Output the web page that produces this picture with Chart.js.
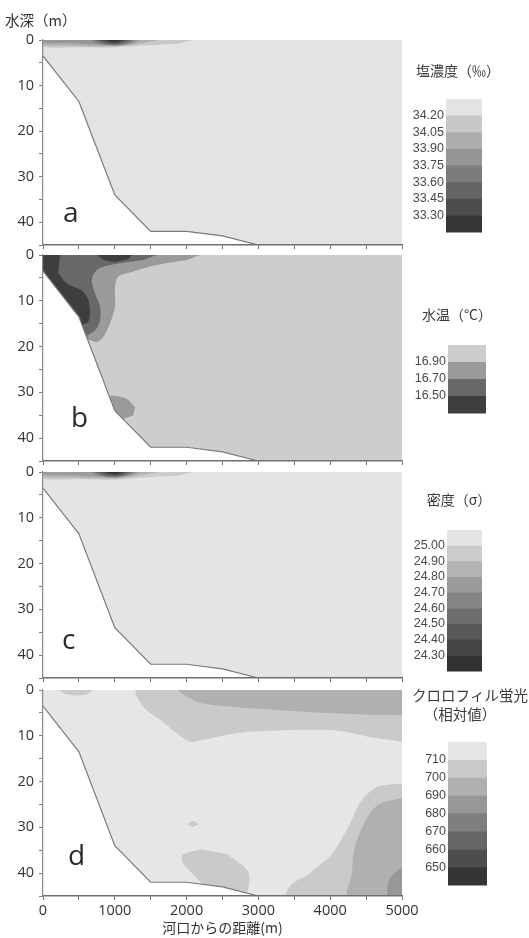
<!DOCTYPE html>
<html lang="ja">
<head>
<meta charset="utf-8">
<title>河口域の断面分布</title>
<script src="https://cdn.jsdelivr.net/npm/chart.js@4.4.1/dist/chart.umd.min.js"></script>
<style>
  html, body { margin: 0; padding: 0; background: #fff; }
  #wrap { position: relative; width: 529px; height: 938px; overflow: hidden; }
  #wrap canvas { position: absolute; left: 0; }
</style>
</head>
<body>
<div id="wrap">
  <canvas id="panelA" width="529" height="261" style="top:0px"></canvas>
  <canvas id="panelB" width="529" height="238" style="top:239px"></canvas>
  <canvas id="panelC" width="529" height="238" style="top:456px"></canvas>
  <canvas id="panelD" width="529" height="264" style="top:674px"></canvas>
</div>
<script>
// 軸 (河口からの距離 m / 水深 m)
const distLabels = [0, 1000, 2000, 3000, 4000, 5000];
const depthLabels = [0, 10, 20, 30, 40];
const plotFrame = [[0, 0], [5000, 0], [5000, 45], [0, 45]];
// 海底地形
const bottomLine = [[0, 3.5], [500, 13.5], [1000, 34], [1500, 42], [2000, 42], [2500, 43], [3000, 45]];

// a 塩濃度
const salLabels = ['34.20', '34.05', '33.90', '33.75', '33.60', '33.45', '33.30'];
const salColors = ['#e3e3e5', '#c8c8ca', '#aeaeb0', '#959597', '#7c7c7e', '#646466', '#4d4d4f', '#363638'];
const salZone1 = [[2100, 0], [0, 0], [0, 1.5], [500, 1.6], [1000, 1.6], [1500, 1.1], [1900, 0.7]];
const salZone2 = [[1600, 0], [0, 0], [0, 1.1], [400, 1.2], [800, 1.4], [1100, 1.3], [1400, 0.6]];
const salZone3 = [[1350, 0], [0, 0], [0, 0.6], [400, 0.7], [750, 1.0], [1000, 1.2], [1250, 0.7]];
const salZone4 = [[1280, 0], [680, 0], [800, 0.9], [1000, 1.15], [1180, 0.8]];
const salZone5 = [[1220, 0], [740, 0], [860, 0.75], [1000, 0.95], [1130, 0.65]];
const salZone6 = [[1160, 0], [800, 0], [900, 0.55], [1000, 0.75], [1090, 0.5]];
const salZone7 = [[1100, 0], [870, 0], [940, 0.35], [1000, 0.5], [1050, 0.35]];

// b 水温
const tmpLabels = ['16.90', '16.70', '16.50'];
const tmpColors = ['#cdcdcf', '#9a9a9c', '#68686a', '#3e3e40'];
const tmpZone1 = [[2190, 0], [0, 0], [0, 20], [560, 20], [630, 18.6], [750, 19], [840, 17.9], [935, 14.9], [1003, 11.3], [1003, 6.9], [1050, 4.7], [1260, 3.6], [1580, 2.2], [2000, 1.1]];
const tmpZone1b = [[1280, 33.2], [1166, 31.4], [1000, 30.8], [930, 31], [900, 36], [1000, 36.2], [1118, 35.8], [1258, 35]];
const tmpZone2 = [[1580, 0], [0, 0], [0, 18], [560, 18], [655, 17.2], [750, 16], [795, 14.2], [795, 11.3], [725, 8.4], [680, 5.5], [750, 3.3], [930, 2.2], [1400, 1.1]];
const tmpZone3 = [[237, 0], [0, 0], [0, 16], [400, 16], [561, 15.2], [631, 14.6], [655, 12.8], [631, 9.8], [539, 7.7], [330, 6.2], [213, 4]];
const tmpZone3b = [[1240, 0], [770, 0], [840, 1], [1000, 1.5], [1190, 0.95]];

// c 密度
const denLabels = ['25.00', '24.90', '24.80', '24.70', '24.60', '24.50', '24.40', '24.30'];
const denColors = ['#e4e4e6', '#cbcbcd', '#b3b3b5', '#9b9b9d', '#848486', '#6d6d6f', '#58585a', '#444446', '#323234'];
const denZone1 = [[2100, 0], [0, 0], [0, 1.5], [500, 1.6], [1000, 1.7], [1500, 1.1], [1900, 0.7]];
const denZone2 = [[1600, 0], [0, 0], [0, 1.1], [400, 1.2], [800, 1.4], [1100, 1.3], [1400, 0.6]];
const denZone3 = [[1350, 0], [0, 0], [0, 0.6], [400, 0.7], [750, 1.0], [1000, 1.2], [1250, 0.7]];
const denZone4 = [[1280, 0], [680, 0], [800, 0.9], [1000, 1.2], [1180, 0.8]];
const denZone5 = [[1230, 0], [730, 0], [850, 0.8], [1000, 1.0], [1140, 0.7]];
const denZone6 = [[1180, 0], [790, 0], [890, 0.6], [1000, 0.8], [1100, 0.55]];
const denZone7 = [[1130, 0], [840, 0], [920, 0.45], [1000, 0.62], [1070, 0.42]];
const denZone8 = [[1080, 0], [890, 0], [950, 0.3], [1000, 0.42], [1040, 0.28]];

// d クロロフィル蛍光 (相対値)
const chlLabels = ['710', '700', '690', '680', '670', '660', '650'];
const chlColors = ['#e6e6e8', '#cacacc', '#b0b0b2', '#979799', '#7e7e80', '#656567', '#4d4d4f', '#353537'];
const chlZone1 = [[5000, 0], [1310, 0], [1400, 3.7], [1640, 6.6], [1870, 9.5], [2060, 11.3], [2200, 11], [2660, 9.5], [3130, 8.9], [4060, 8.8], [4530, 10.2], [5000, 11.3]];
const chlZone2 = [[700, 0], [230, 0], [330, 1], [470, 1.2], [620, 1]];
const chlZone3 = [[2200, 34.8], [1940, 36], [1940, 37.4], [2000, 38.8], [2200, 42], [2400, 45], [2800, 45], [2870, 42.5], [2850, 39.5], [2570, 35.9]];
const chlZone4 = [[2170, 29.3], [2090, 28.6], [2015, 29.3], [2090, 30]];
const chlZone5 = [[5000, 45], [3390, 45], [3460, 42.5], [3690, 40.3], [4020, 35.9], [4250, 30], [4440, 24.1], [4670, 21.1], [5000, 20.4]];
const chlZone6 = [[5000, 0], [1900, 0], [2010, 1.5], [2200, 2.9], [2660, 3.7], [3130, 4.2], [3590, 4.7], [4060, 5.1], [4530, 5.4], [5000, 5.5]];
const chlZone7 = [[5000, 45], [4250, 45], [4300, 40.3], [4340, 34.4], [4490, 28.6], [4670, 25], [5000, 23.6]];
const chlZone8 = [[5000, 45], [4810, 45], [4810, 42], [4870, 40.3], [5000, 38.8]];

const pts = a => a.map(p => ({ x: p[0], y: p[1] }));

// 色帯の凡例とパネル記号
function decor(p) {
  return {
    id: 'decor',
    afterDraw(chart) {
      const ctx = chart.ctx;
      const dy = p.top;
      ctx.save();
      ctx.fillStyle = '#2b2b2b';
      ctx.font = '28px "Open Sans"';
      ctx.textAlign = 'left';
      ctx.textBaseline = 'alphabetic';
      ctx.fillText(p.letter, p.letterX, p.letterY - dy);

      const n = p.colors.length, bh = p.box.h / n;
      p.colors.forEach((c, i) => {
        ctx.fillStyle = c;
        ctx.fillRect(p.box.x, p.box.y - dy + i * bh, p.box.w, bh + 0.5);
      });
      ctx.fillStyle = '#4a4a4a';
      ctx.font = '12.5px "Liberation Sans"';
      ctx.textAlign = 'right';
      ctx.textBaseline = 'middle';
      p.labels.forEach((t, i) => ctx.fillText(t, p.box.x - 2, p.box.y - dy + (i + 1) * bh));

      ctx.fillStyle = '#3a3a3a';
      ctx.font = p.titleFont;
      ctx.textAlign = 'center';
      p.title.forEach((t, i) => ctx.fillText(t, p.titleX[i], p.titleY[i] - dy));

      if (p.yTitle) {
        ctx.textAlign = 'left';
        ctx.font = '14.5px "Noto Sans CJK JP"';
        ctx.fillStyle = '#333';
        ctx.fillText(p.yTitle, 5, 20 - dy);
      }
      ctx.restore();
    }
  };
}

function makePanel(id, p) {
  const ds = [];
  ds.push({ data: pts(plotFrame), fill: 'shape', backgroundColor: p.colors[0], borderWidth: 0, pointRadius: 0, tension: 0 });
  p.zones.forEach(z => {
    ds.push({ data: pts(z[0]), fill: 'shape', backgroundColor: p.colors[z[1]], borderWidth: 0, pointRadius: 0, tension: 0.3 });
  });
  ds.push({ data: pts(bottomLine.concat([[0, 45]])), fill: 'shape', backgroundColor: '#ffffff', borderWidth: 0, pointRadius: 0, tension: 0 });
  ds.push({ data: pts(bottomLine), fill: false, borderColor: '#7a7a7a', borderWidth: 1.2, pointRadius: 0, tension: 0 });
  ds.reverse(); // 先頭のデータセットが一番上に描かれる

  const tickFont = { family: 'Open Sans', size: 14.5 };
  new Chart(document.getElementById(id), {
    type: 'line',
    data: { datasets: ds },
    options: {
      responsive: false,
      animation: false,
      events: [],
      layout: { padding: { top: p.padTop, right: 127, left: 0, bottom: 0 } },
      plugins: { legend: { display: false }, tooltip: { enabled: false } },
      scales: {
        x: {
          type: 'linear', min: 0, max: 5000,
          ticks: {
            stepSize: 500, autoSkip: false, maxRotation: 0, padding: 2,
            color: '#333', font: tickFont,
            callback: v => (p.xLabels && distLabels.includes(v)) ? v : ''
          },
          grid: { drawOnChartArea: false, drawTicks: true, tickLength: 4, color: '#707070', z: 1 },
          border: { display: true, color: '#6e6e6e', width: 1.5, z: 1 },
          title: {
            display: p.xLabels, text: '河口からの距離(m)', color: '#333',
            font: { family: 'Noto Sans CJK JP', size: 14 }, padding: { top: 0, bottom: 2 }
          },
          afterFit: s => { s.height = p.xH; }
        },
        y: {
          type: 'linear', reverse: true, min: 0, max: 45,
          ticks: {
            stepSize: 5, autoSkip: false, padding: 5, color: '#333', font: tickFont,
            callback: v => depthLabels.includes(v) ? v : ''
          },
          grid: { drawOnChartArea: false, drawTicks: true, tickLength: 4, color: '#808080', z: 1 },
          border: { display: true, color: '#8a8a8a', width: 1.2, z: 1 },
          afterFit: s => { s.width = 43; }
        }
      }
    },
    plugins: [decor(p)]
  });
}

makePanel('panelA', {
  top: 0, padTop: 40, xH: 16, xLabels: false,
  colors: salColors, labels: salLabels,
  zones: [[salZone1, 1], [salZone2, 2], [salZone3, 3], [salZone4, 4], [salZone5, 5], [salZone6, 6], [salZone7, 7]],
  letter: 'a', letterX: 63, letterY: 222,
  title: ['塩濃度（‰）'], titleX: [458], titleY: [71], titleFont: '14px "Noto Sans CJK JP"',
  box: { x: 446, y: 99, w: 36, h: 133 },
  yTitle: '水深（m）'
});

makePanel('panelB', {
  top: 239, padTop: 16, xH: 16, xLabels: false,
  colors: tmpColors, labels: tmpLabels,
  zones: [[tmpZone1, 1], [tmpZone1b, 1], [tmpZone2, 2], [tmpZone3, 3], [tmpZone3b, 3]],
  letter: 'b', letterX: 71, letterY: 427,
  title: ['水温（°C）'], titleX: [457], titleY: [315], titleFont: '14px "Noto Sans CJK JP"',
  box: { x: 448, y: 345, w: 38, h: 68 }
});

makePanel('panelC', {
  top: 456, padTop: 16, xH: 16, xLabels: false,
  colors: denColors, labels: denLabels,
  zones: [[denZone1, 1], [denZone2, 2], [denZone3, 3], [denZone4, 4], [denZone5, 5], [denZone6, 6], [denZone7, 7], [denZone8, 8]],
  letter: 'c', letterX: 62, letterY: 649,
  title: ['密度（σ）'], titleX: [459], titleY: [500], titleFont: '14px "Noto Sans CJK JP"',
  box: { x: 447, y: 530, w: 35, h: 141 }
});

makePanel('panelD', {
  top: 674, padTop: 16, xH: 42, xLabels: true,
  colors: chlColors, labels: chlLabels,
  zones: [[chlZone1, 1], [chlZone2, 1], [chlZone3, 1], [chlZone4, 1], [chlZone5, 1], [chlZone6, 2], [chlZone7, 2], [chlZone8, 3]],
  letter: 'd', letterX: 68, letterY: 865,
  title: ['クロロフィル蛍光', '（相対値）'], titleX: [470, 460], titleY: [695, 714], titleFont: '14.5px "Noto Sans CJK JP"',
  box: { x: 448, y: 742, w: 39, h: 143 }
});
</script>
</body>
</html>
